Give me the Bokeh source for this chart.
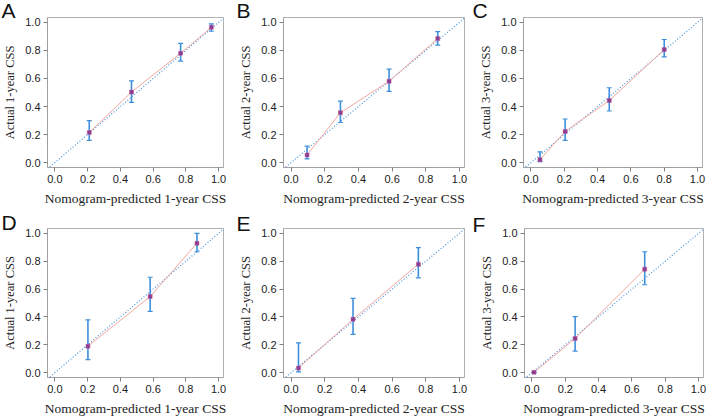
from bokeh.plotting import figure
from bokeh.layouts import column, row
from bokeh.models import Range1d, FixedTicker, Whisker, ColumnDataSource
from bokeh.embed import file_html
from bokeh.resources import INLINE

letters = ["A", "B", "C", "D", "E", "F"]
xlabels = ["Nomogram-predicted 1-year CSS", "Nomogram-predicted 2-year CSS", "Nomogram-predicted 3-year CSS",
           "Nomogram-predicted 1-year CSS", "Nomogram-predicted 2-year CSS", "Nomogram-predicted 3-year CSS"]
ylabels = ["Actual 1-year CSS", "Actual 2-year CSS", "Actual 3-year CSS",
           "Actual 1-year CSS", "Actual 2-year CSS", "Actual 3-year CSS"]

pred_A = [0.21, 0.468, 0.768, 0.956]
obs_A = [0.215, 0.503, 0.78, 0.965]
lo_A = [0.159, 0.429, 0.724, 0.937]
hi_A = [0.30, 0.583, 0.85, 0.99]

pred_B = [0.095, 0.293, 0.582, 0.871]
obs_B = [0.054, 0.356, 0.58, 0.885]
lo_B = [0.026, 0.286, 0.508, 0.838]
hi_B = [0.117, 0.438, 0.667, 0.934]

pred_C = [0.054, 0.205, 0.47, 0.80]
obs_C = [0.021, 0.222, 0.443, 0.806]
lo_C = [0.007, 0.159, 0.368, 0.754]
hi_C = [0.077, 0.311, 0.534, 0.878]

pred_D = [0.202, 0.582, 0.868]
obs_D = [0.19, 0.546, 0.929]
lo_D = [0.094, 0.44, 0.868]
hi_D = [0.379, 0.685, 1.0]

pred_E = [0.044, 0.368, 0.756]
obs_E = [0.033, 0.383, 0.779]
lo_E = [0.005, 0.275, 0.681]
hi_E = [0.214, 0.533, 0.897]

pred_F = [0.012, 0.259, 0.677]
obs_F = [0.002, 0.245, 0.743]
lo_F = [0.0, 0.155, 0.631]
hi_F = [0.004, 0.402, 0.868]

ticks = [0.0, 0.2, 0.4, 0.6, 0.8, 1.0]

panels = [
    (pred_A, obs_A, lo_A, hi_A),
    (pred_B, obs_B, lo_B, hi_B),
    (pred_C, obs_C, lo_C, hi_C),
    (pred_D, obs_D, lo_D, hi_D),
    (pred_E, obs_E, lo_E, hi_E),
    (pred_F, obs_F, lo_F, hi_F),
]

X0, X1 = -0.045, 1.03
Y0, Y1 = -0.035, 1.035

# layout geometry (width, height, border left, right, top, bottom)
geom = [
    (235, 210, 44, 12, 14, 43),
    (235, 210, 48, 6, 14, 43),
    (238, 210, 53, 6, 14, 43),
    (235, 208, 44, 12, 16, 38),
    (235, 208, 48, 6, 17, 37),
    (238, 208, 54, 5, 18, 36),
]
# panel letter: horizontal offset from frame's left edge, standoff above frame
letter_off = [(-46, -8), (-47, -8), (-51, -8), (-46, -10), (-47, -12), (-52, -15)]

figs = []
for i, (pr, ob, lo, hi) in enumerate(panels):
    w, h, bl, br, bt, bb = geom[i]
    p = figure(width=w, height=h, output_backend="svg", toolbar_location=None,
               x_range=Range1d(X0, X1), y_range=Range1d(Y0, Y1),
               min_border_left=bl, min_border_right=br, min_border_top=bt, min_border_bottom=bb)
    p.xgrid.visible = False
    p.ygrid.visible = False
    p.outline_line_color = "#b0b0b0"
    p.outline_line_width = 1
    p.background_fill_color = "white"
    p.border_fill_color = "white"
    for ax in (p.xaxis[0], p.yaxis[0]):
        ax.ticker = FixedTicker(ticks=ticks)
        ax.minor_tick_line_color = None
        ax.axis_line_color = "#a0a0a0"
        ax.major_tick_line_color = "#808080"
        ax.major_tick_out = 4
        ax.major_tick_in = 0
        ax.major_label_text_font = "Liberation Sans"
        ax.major_label_text_font_size = "11px"
        ax.major_label_text_color = "#222222"
        ax.axis_label_text_font = "Liberation Serif"
        ax.axis_label_text_font_style = "normal"
        ax.axis_label_text_color = "#222222"
        ax.major_label_standoff = 3
        ax.axis_label_standoff = 5
    p.xaxis[0].axis_label_text_font_size = "13.5px"
    p.yaxis[0].axis_label_text_font_size = "12.5px"
    p.xaxis[0].axis_label = xlabels[i]
    p.yaxis[0].axis_label = ylabels[i]
    p.xaxis[0].major_label_overrides = {t: f"{t:.1f}" for t in ticks}
    p.yaxis[0].major_label_overrides = {t: f"{t:.1f}" for t in ticks}

    # ideal diagonal
    p.line([-0.1, 1.1], [-0.1, 1.1], line_color="#4a94dc", line_width=1.2, line_dash="1 2")
    # calibration line
    p.line(pr, ob, line_color="#f2a79e", line_width=1)
    # error bars
    src = ColumnDataSource(dict(x=pr, lo=lo, hi=hi))
    wk = Whisker(source=src, base="x", lower="lo", upper="hi", dimension="height",
                 line_color="#3d8fdc", line_width=1.6)
    wk.upper_head.size = 5
    wk.lower_head.size = 5
    wk.upper_head.line_color = "#3d8fdc"
    wk.lower_head.line_color = "#3d8fdc"
    wk.upper_head.line_width = 1.2
    wk.lower_head.line_width = 1.2
    p.add_layout(wk)
    # points
    p.scatter(pr, ob, marker="square", size=4, fill_color="#8a3d8f", line_color="#c05a9a", line_width=0.5)

    # panel letter as the figure title
    dx, so = letter_off[i]
    p.title.text = letters[i]
    p.title.align = "left"
    p.title.offset = dx
    p.title.standoff = so
    p.title.text_font = "Liberation Sans"
    p.title.text_font_size = "21px"
    p.title.text_font_style = "normal"
    p.title.text_color = "#111111"
    figs.append(p)

layout = column(row(*figs[:3], spacing=0), row(*figs[3:], spacing=0), spacing=0)
open("out.html", "w").write(file_html(layout, INLINE))
